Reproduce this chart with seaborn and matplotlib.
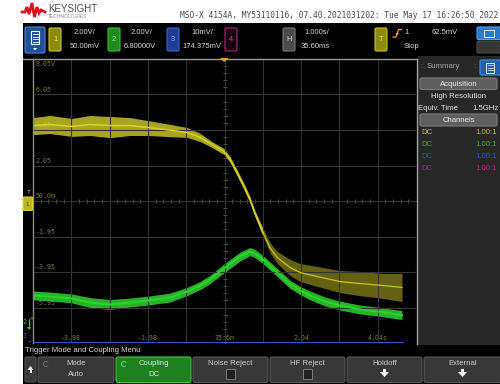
import numpy as np
import pandas as pd
import matplotlib
matplotlib.use("Agg")
import matplotlib.pyplot as plt
from matplotlib.patches import Rectangle, FancyBboxPatch, Polygon, Arc
from matplotlib.ticker import MultipleLocator
import seaborn as sns

# ---------------- data ----------------
# Channel 1 (yellow): time [s], centre value [V], upper / lower noise envelope [V]
ch1_t = [-4.96, -4.52, -3.95, -3.48, -2.95, -2.43, -1.96, -1.52, -0.94, -0.60, -0.34,
         0.02, 0.18, 0.36, 0.57, 0.70, 0.83, 1.04, 1.22, 1.41, 1.75, 2.01, 2.45, 3.05,
         3.57, 4.17, 4.67]
ch1_v = [4.30, 4.36, 4.25, 4.36, 4.30, 4.30, 4.19, 4.08, 3.91, 3.63, 3.29,
         2.84, 2.39, 1.66, 0.75, 0.13, -0.65, -1.72, -2.57, -3.13, -3.70, -3.98, -4.20, -4.49,
         -4.60, -4.71, -4.82]
ch1_hi = [4.75, 4.87, 4.70, 4.87, 4.81, 4.75, 4.58, 4.42, 4.19, 3.86, 3.46,
          3.01, 2.56, 1.83, 0.92, 0.30, -0.48, -1.49, -2.29, -2.79, -3.25, -3.47, -3.64, -3.87,
          -3.92, -4.03, -4.03]
ch1_lo = [3.79, 3.85, 3.69, 3.74, 3.62, 3.74, 3.74, 3.69, 3.63, 3.40, 3.12,
          2.67, 2.22, 1.49, 0.58, -0.04, -0.82, -1.95, -2.85, -3.47, -4.15, -4.49, -4.76, -5.11,
          -5.28, -5.44, -5.61]

# Channel 2 (green): time [s], centre value [V], noise half-width [V]
ch2_t = [-4.96, -4.52, -3.95, -3.48, -2.95, -2.43, -1.96, -1.39, -0.94, -0.60, -0.34,
         0.02, 0.44, 0.70, 0.83, 1.04, 1.41, 1.75, 2.01, 2.27, 2.66, 3.05, 3.57, 4.04, 4.67]
ch2_v = [-5.27, -5.33, -5.44, -5.67, -5.78, -5.67, -5.56, -5.39, -5.05, -4.71, -4.37,
         -3.75, -3.08, -2.80, -2.91, -3.25, -3.98, -4.65, -4.99, -5.27, -5.61, -5.84, -6.06,
         -6.18, -6.38]
ch2_noise = [0.25, 0.25, 0.25, 0.28, 0.28, 0.25, 0.25, 0.25, 0.23, 0.23, 0.23,
             0.25, 0.25, 0.23, 0.23, 0.23, 0.23, 0.23, 0.23, 0.25, 0.25, 0.25, 0.25,
             0.25, 0.25]

# Channel 3 (blue) sits clipped at the bottom edge of the screen
ch3_t = [-4.96, 4.67]
ch3_v = [-7.93, -7.93]

# graticule annotations
y_tick_vals = [8.05, 6.05, 4.05, 2.05, 0.05, -1.95, -3.95, -5.95]
y_tick_labels = ["8.05V", "6.05", "4.05", "2.05", "50.0m", "-1.95", "-3.95", "-5.95"]
x_tick_vals = [-3.9644, -1.9644, 0.0356, 2.0356, 4.0356]
x_tick_labels = ["-3.98", "-1.98", "35.6m", "2.04", "4.04s"]

# scope settings
h_pos, t_div = 0.0356, 1.0
v_off, v_div = 0.05, 2.0

# ---------------- figure ----------------
plt.rcParams["font.family"] = ["Liberation Sans", "DejaVu Sans"]
fig = plt.figure(figsize=(5.0, 3.84), dpi=100, facecolor="white")

ui = fig.add_axes([0, 0, 1, 1], zorder=0)
ui.set_xlim(0, 500); ui.set_ylim(384, 0); ui.axis("off")
top = fig.add_axes([0, 0, 1, 1], zorder=5)
top.set_xlim(0, 500); top.set_ylim(384, 0); top.axis("off"); top.patch.set_alpha(0)


def rect(a, x0, y0, x1, y1, fc, ec="none", lw=0.8, r=0.0, z=1):
    if r > 0:
        p = FancyBboxPatch((x0, y0), x1 - x0, y1 - y0,
                           boxstyle=f"round,pad=0,rounding_size={r}",
                           fc=fc, ec=ec, lw=lw, zorder=z)
    else:
        p = Rectangle((x0, y0), x1 - x0, y1 - y0, fc=fc, ec=ec, lw=lw, zorder=z)
    a.add_patch(p)


def txt(a, x, y, s, size=5.5, color="#d8d8d8", ha="center", va="center", z=3, **kw):
    a.text(x, y, s, fontsize=size, color=color, ha=ha, va=va, zorder=z, **kw)


# ---- header ----
logo_x = [22, 25, 27, 29, 32, 34.5, 37, 39, 41, 45]
logo_y = [12, 12, 7, 14, 3, 17, 7, 13, 10, 12]
ui.plot(logo_x, logo_y, color="#e0101e", lw=2.0, solid_joinstyle="miter")
txt(ui, 48, 8.5, "KEYSIGHT", size=7.0, color="#4e4e4e", ha="left")
txt(ui, 48, 16.5, "TECHNOLOGIES", size=3.6, color="#8a8a8a", ha="left")
txt(ui, 180, 15, "MSO-X 4154A, MY53110116, 07.40.2021031202: Tue May 17 16:26:50 2022",
    size=5.7, color="#4a4a4a", ha="left", family="DejaVu Sans Mono")

# ---- black instrument area and side panel ----
rect(ui, 23, 23, 500, 384, "#000000", z=0)
rect(ui, 417.5, 56, 500, 344.5, "#272727", z=0.5)

# ---- toolbar ----
rect(ui, 25, 27, 45, 53, "#1d4f9a", ec="#4a84d4", r=2)
rect(ui, 31, 31, 39, 44, "none", ec="white", lw=0.8, z=2)
for yy in (34, 36.5, 39, 41.5):
    ui.plot([32.5, 37.5], [yy, yy], color="white", lw=0.6, zorder=3)
ui.add_patch(Polygon([[33, 48], [37, 48], [35, 50.5]], closed=True, fc="white", zorder=3))

boxes = [(49, "#8c8a12", "#c9c52a", "1", "#f0ee60"),
         (108, "#1c8a1c", "#38c038", "2", "#8ef08e"),
         (167, "#1f3d96", "#3d63d0", "3", "#8fa8f0"),
         (225, "#14040c", "#c0207a", "4", "#e0409a"),
         (283, "#4a4a4a", "#7a7a7a", "H", "#e0e0e0"),
         (375, "#8c8a12", "#c9c52a", "T", "#f0ee60")]
for x0, fc, ec, lab, tc in boxes:
    rect(ui, x0, 28, x0 + 12, 51, fc, ec=ec, r=1.5)
    txt(ui, x0 + 6, 39.5, lab, size=5.3, color=tc)

txt(ui, 85, 33, "2.00V/"); txt(ui, 85, 46, "50.00mV")
txt(ui, 142, 33, "2.00V/"); txt(ui, 140, 46, "6.80000V")
txt(ui, 202, 33, "10mV/"); txt(ui, 202, 46, "174.375mV")
txt(ui, 317, 33, "1.000s/"); txt(ui, 315, 46, "35.60ms")
ui.plot([393, 396, 398.5, 401.5], [37, 37, 29.5, 29.5], color="#f0a020", lw=0.9, zorder=3)
ui.add_patch(Polygon([[395.5, 33], [399, 33], [397.2, 35.5]], closed=True, fc="#f0a020", zorder=3))
txt(ui, 407, 33, "1"); txt(ui, 445, 33, "62.5mV"); txt(ui, 412, 46, "Stop")
rect(ui, 477, 27, 501, 39.5, "#2a78cc", ec="#5aa0e8", r=1.5)
rect(ui, 484, 29.5, 494, 37, "none", ec="white", lw=0.6, z=2)
rect(ui, 477, 41, 501, 53, "#363636", ec="#4a4a4a", r=1.5)

# ---- side panel ----
txt(ui, 443, 66, "Summary", size=5.6, color="#a8a8a8")
txt(ui, 421, 66, ":", size=6, color="#6a6a6a")
txt(ui, 474, 66, ":", size=6, color="#6a6a6a")
rect(ui, 480, 60, 501, 75, "#1f5fb0", ec="#4a8ae0", r=1.5)
rect(ui, 486, 62.5, 494, 72.5, "none", ec="white", lw=0.6, z=2)
for yy in (65, 67.5, 70):
    ui.plot([487.5, 492.5], [yy, yy], color="white", lw=0.5, zorder=3)
rect(ui, 420, 78, 497, 89.5, "#5e5e5e", ec="#7c7c7c", r=2)
txt(ui, 458.5, 84, "Acquisition", size=5.6, color="#ececec")
txt(ui, 458.5, 97, "High Resolution", size=5.6, color="#e6e6e6")
txt(ui, 418.5, 108, "Equiv. Time", size=5.6, color="#e6e6e6", ha="left")
txt(ui, 499, 108, "1.5GHz", size=5.6, color="#e6e6e6", ha="right")
rect(ui, 420, 114, 497, 126, "#5e5e5e", ec="#7c7c7c", r=2)
txt(ui, 458.5, 120, "Channels", size=5.6, color="#ececec")
row_cols = ["#c8c420", "#28b828", "#3454c4", "#c02078"]
for i, c in enumerate(row_cols):
    yy = 132 + 12 * i
    txt(ui, 421, yy, "DC", size=5.6, color=c, ha="left")
    txt(ui, 497, yy, "1.00:1", size=5.6, color=c, ha="right")

# ---- bottom soft-key menu ----
txt(ui, 25, 351, "Trigger Mode and Coupling Menu", size=5.6, color="#dcdcdc", ha="left")
rect(ui, 25, 357, 36, 382, "#3a3a3a", ec="#555555", r=1.5)
ui.add_patch(Polygon([[27.5, 370], [33.5, 370], [30.5, 366]], closed=True, fc="white", zorder=3))
ui.add_patch(Rectangle((29.5, 370), 2, 3, fc="white", zorder=3))
keys = [(38, 114, "Mode", "Auto", "#383838", "#585858"),
        (116, 191, "Coupling", "DC", "#1e801e", "#40c840"),
        (193, 268, "Noise Reject", "box", "#383838", "#585858"),
        (270, 345, "HF Reject", "box", "#383838", "#585858"),
        (347, 422, "Holdoff", "arrow", "#383838", "#585858"),
        (424, 501, "External", "arrow", "#383838", "#585858")]
for x0, x1, l1, l2, fc, ec in keys:
    rect(ui, x0, 357, x1, 382.5, fc, ec=ec, r=2)
    cx = (x0 + x1) / 2
    tcol = "#e4e4e4" if l1 == "Coupling" else "#cfcfcf"
    txt(ui, cx, 363.5, l1, size=5.6, color=tcol)
    if l2 == "box":
        rect(ui, cx - 4.5, 368.5, cx + 4.5, 379, "#202020", ec="#8a8a8a", lw=0.6, z=2)
    elif l2 == "arrow":
        ui.add_patch(Polygon([[cx - 4.5, 372], [cx + 4.5, 372], [cx, 377]], closed=True,
                             fc="white", zorder=3))
        ui.add_patch(Rectangle((cx - 1.8, 369), 3.6, 3.2, fc="white", zorder=3))
    else:
        txt(ui, cx, 374, l2, size=5.6, color=tcol)
for x0, c in ((43, "#6a6a6a"), (121, "#70d070")):
    ui.add_patch(Arc((x0 + 3, 364), 5, 5, theta1=40, theta2=330, color=c, lw=0.7, zorder=3))

# ---------------- oscilloscope graticule axes ----------------
ax = fig.add_axes([33 / 500, 1 - 343 / 384, 383 / 500, 284 / 384], zorder=2)
ax.set_facecolor("black")
ax.set_xlim(h_pos - 5 * t_div, h_pos + 5 * t_div)
ax.set_ylim(v_off - 4 * v_div, v_off + 4 * v_div)
ax.xaxis.set_major_locator(MultipleLocator(t_div, offset=h_pos))
ax.yaxis.set_major_locator(MultipleLocator(v_div, offset=v_off))
ax.xaxis.set_minor_locator(MultipleLocator(t_div / 5, offset=h_pos))
ax.yaxis.set_minor_locator(MultipleLocator(v_div / 5, offset=v_off))
ax.grid(True, which="major", color="#343434", lw=0.8)
for s in ("top", "right"):
    ax.spines[s].set_visible(False)
ax.spines["left"].set_position(("data", h_pos))
ax.spines["bottom"].set_position(("data", v_off))
for s in ("left", "bottom"):
    ax.spines[s].set_color("#343434")
    ax.spines[s].set_linewidth(0.8)
ax.tick_params(which="major", length=0, labelleft=False, labelbottom=False)
ax.tick_params(which="minor", direction="inout", length=3.5, width=0.7, color="#555555")

lab_col = "#7e7c2a"
for v, s in zip(y_tick_vals, y_tick_labels):
    first = s == y_tick_labels[0]
    ax.annotate(s, xy=(ax.get_xlim()[0], v), xytext=(2, -1.5 if first else 1.2),
                textcoords="offset points", fontsize=4.8, color=lab_col,
                family="DejaVu Sans Mono", ha="left", va="top" if first else "bottom",
                zorder=1)
for t, s in zip(x_tick_vals, x_tick_labels):
    ax.annotate(s, xy=(t, ax.get_ylim()[0]), xytext=(0, 1.8), textcoords="offset points",
                fontsize=4.8, color=lab_col, family="DejaVu Sans Mono", ha="center",
                va="bottom", zorder=1)


def band_frame(t, lo, mid, hi):
    return pd.DataFrame({"t": np.repeat(t, 3),
                         "v": np.column_stack([lo, mid, hi]).ravel()})


df1 = band_frame(ch1_t, ch1_lo, ch1_v, ch1_hi)
ch2_lo = [v - n for v, n in zip(ch2_v, ch2_noise)]
ch2_hi = [v + n for v, n in zip(ch2_v, ch2_noise)]
df2 = band_frame(ch2_t, ch2_lo, ch2_v, ch2_hi)
df3 = pd.DataFrame({"t": ch3_t, "v": ch3_v})

sns.lineplot(data=df2, x="t", y="v", estimator="median", errorbar=("pi", 100),
             color="#2ed42e", lw=1.4, err_kws=dict(alpha=0.85, lw=0), ax=ax, zorder=4)
# dense part of the yellow trace (before the fall) and the sparse, spiky tail
dense = df1[df1["t"] <= 1.04]
tail = df1[df1["t"] >= 1.04]
sns.lineplot(data=dense, x="t", y="v", estimator="median", errorbar=("pi", 100),
             color="#d8d42a", lw=1.1, err_kws=dict(alpha=0.78, lw=0), ax=ax, zorder=5)
sns.lineplot(data=tail, x="t", y="v", estimator="median", errorbar=("pi", 100),
             color="#c8c424", lw=0.9, err_kws=dict(alpha=0.5, lw=0), ax=ax, zorder=5)
sns.lineplot(data=df3, x="t", y="v", color="#3c5ee0", lw=2.0, ax=ax, zorder=6)
ax.set_xlabel(""); ax.set_ylabel("")

# ---------------- overlays on top of the graticule ----------------
top.plot([23, 416.5], [58.6, 58.6], color="#9a9a9a", lw=1.0)
top.plot([33, 33], [58.6, 343], color="#8a8a8a", lw=1.0)
top.plot([416.5, 416.5], [58.6, 344], color="#a0a0a0", lw=1.0)
top.add_patch(Polygon([[220, 58], [228.5, 58], [224.2, 62]], closed=True, fc="#f2a21e", zorder=6))
# channel 1 ground / trigger marker
rect(top, 23, 197, 32.5, 210.5, "#bcb820", ec="#d8d430", r=1, z=6)
txt(top, 27.7, 204, "1", size=4.6, color="#3a3a00", z=7)
txt(top, 29, 192.5, "T", size=4.6, color="#d8d430", z=7)
# channel 2 marker
txt(top, 24.5, 322, "2", size=5.0, color="#30d030", ha="center", z=7)
top.plot([29, 29], [319, 328], color="#30d030", lw=0.8, zorder=7)
top.add_patch(Polygon([[27, 327], [31, 327], [29, 330]], closed=True, fc="#30d030", zorder=7))
txt(top, 31.5, 320, "+", size=5.0, color="#30d030", z=7)
# channel 3 marker
txt(top, 24.5, 337, "3", size=5.0, color="#3a5ee0", z=7)
txt(top, 29.5, 342.5, "+", size=5.0, color="#3a5ee0", z=7)

fig.savefig("out.png", dpi=100, facecolor="white")
